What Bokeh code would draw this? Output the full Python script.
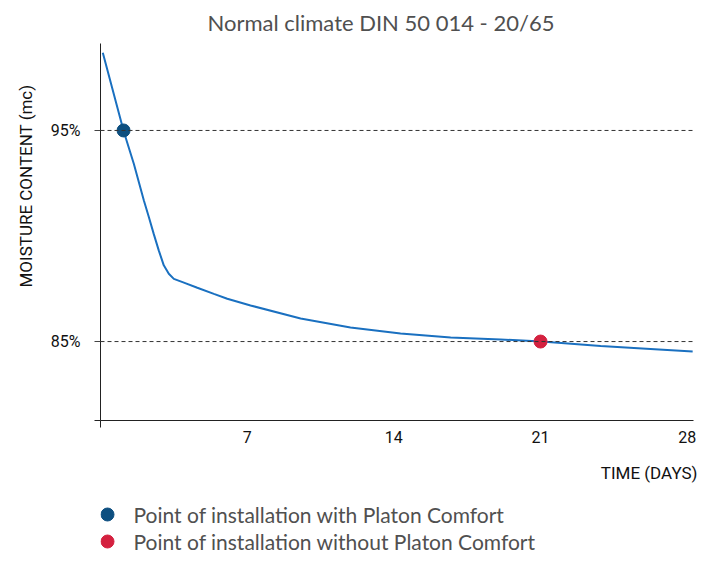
from bokeh.plotting import figure
from bokeh.layouts import column
from bokeh.models import Range1d, FixedTicker, Span, Title
from bokeh.core.properties import value
from bokeh.embed import file_html
from bokeh.resources import INLINE

# ---- data ----
days = [0.11, 1.11, 1.59, 2.07, 2.31, 2.54, 2.78, 3.02, 3.26, 3.50, 3.98, 4.62, 5.41, 6.05,
        7.16, 9.55, 11.93, 14.32, 16.71, 19.09, 21.05, 23.87, 26.25, 28.26]
moisture = [98.68, 94.95, 93.42, 91.68, 90.89, 90.10, 89.32, 88.61, 88.21, 87.97, 87.79,
            87.55, 87.26, 87.03, 86.71, 86.09, 85.67, 85.38, 85.19, 85.10, 85.00, 84.79,
            84.65, 84.53]
with_day = [1.1]
with_mc = [95.0]
without_day = [21.0]
without_mc = [85.0]
x_ticks = [7, 14, 21, 28]
y_ticks = [85, 95]
y_tick_labels = ["85%", "95%"]
title_text = "Normal climate DIN 50 014 - 20/65"
x_label = "TIME (DAYS)"
y_label = "MOISTURE CONTENT (mc)"
legend_labels = ["Point of installation with Platon Comfort",
                 "Point of installation without Platon Comfort"]
legend_colors = ["#0d4f80", "#d4213f"]

LINE_BLUE = "#1a70c0"
DOT_BLUE = legend_colors[0]
DOT_RED = legend_colors[1]
AX = "#222222"
TXT = "#111111"
LIGHT_TXT = "#505050"

x0, x1 = 0, 28.3
y0, y1 = 81.26, 99.12
W = 697
FRAME_L, FRAME_R = 100, 693

p = figure(width=W, height=500, x_range=Range1d(x0, x1), y_range=Range1d(y0, y1),
           output_backend="svg", toolbar_location=None,
           min_border_left=FRAME_L, min_border_right=W - FRAME_R,
           min_border_top=43, min_border_bottom=80)
p.outline_line_color = None
p.xgrid.visible = False
p.ygrid.visible = False

xa = p.xaxis[0]
xa.ticker = FixedTicker(ticks=x_ticks, minor_ticks=[x0])
xa.major_tick_out = 0
xa.major_tick_in = 0
xa.minor_tick_out = 7
xa.minor_tick_in = 0
xa.axis_line_color = AX
xa.minor_tick_line_color = AX
xa.major_label_standoff = 3
xa.major_label_text_font = "Roboto"
xa.major_label_text_font_size = "16px"
xa.major_label_text_color = TXT

ya = p.yaxis[0]
ya.ticker = FixedTicker(ticks=y_ticks, minor_ticks=[y0])
ya.major_tick_out = 6
ya.major_tick_in = 0
ya.minor_tick_out = 6
ya.minor_tick_in = 0
ya.axis_line_color = AX
ya.major_tick_line_color = "#444444"
ya.minor_tick_line_color = AX
ya.major_label_overrides = {t: l for t, l in zip(y_ticks, y_tick_labels)}
ya.major_label_standoff = 14
ya.major_label_text_font = "Roboto"
ya.major_label_text_font_size = "16px"
ya.major_label_text_color = TXT

for t in y_ticks:
    p.add_layout(Span(location=t, dimension="width", line_color="#333333",
                      line_width=1, line_dash="4 3"))

p.line(days, moisture, line_color=LINE_BLUE, line_width=2)
p.scatter(with_day, with_mc, size=13, fill_color=DOT_BLUE, line_color=DOT_BLUE)
p.scatter(without_day, without_mc, size=13, fill_color=DOT_RED, line_color=DOT_RED)

p.add_layout(Title(text=title_text, align="left", offset=107, standoff=13,
                   vertical_align="middle",
                   text_font="Lato", text_font_size="22px", text_font_style="normal",
                   text_color=LIGHT_TXT), "above")
p.add_layout(Title(text=y_label, align="left", offset=133, standoff=24,
                   text_font="Roboto", text_font_size="17px", text_font_style="normal",
                   text_color=TXT), "left")
p.add_layout(Title(text=x_label, align="right", offset=-4, standoff=30,
                   text_font="Roboto", text_font_size="17px", text_font_style="normal",
                   text_color=TXT), "below")

# legend drawn in its own small figure under the chart (its frame aligns with the chart's)
LH = 54
q = figure(width=W, height=LH, x_range=Range1d(FRAME_L, FRAME_R), y_range=Range1d(LH, 0),
           output_backend="svg", toolbar_location=None,
           min_border_left=0, min_border_right=0, min_border_top=0, min_border_bottom=0,
           x_axis_location=None, y_axis_location=None)
q.outline_line_color = None
q.xgrid.visible = False
q.ygrid.visible = False
row_y = [14, 41]
q.scatter([107, 107], row_y, size=13, fill_color=legend_colors, line_color=legend_colors)
q.text([133, 133], row_y, text=legend_labels, text_baseline="middle", text_align="left",
       text_font=value("Lato"), text_font_size="21px", text_color=LIGHT_TXT)

layout = column(p, q, spacing=0)
open("out.html", "w").write(file_html(layout, INLINE))
